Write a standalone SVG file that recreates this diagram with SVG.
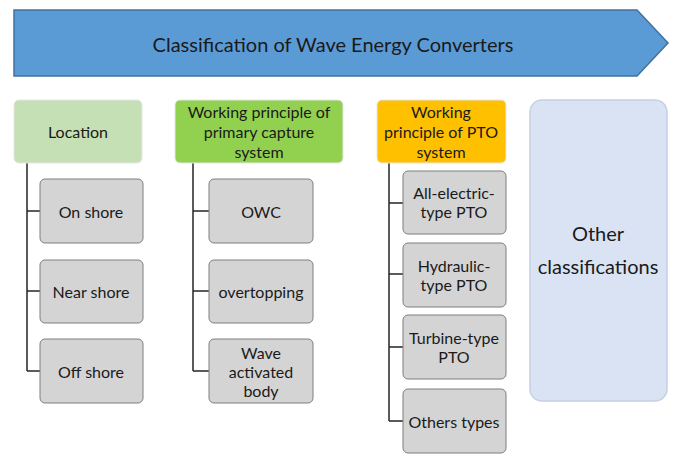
<svg xmlns="http://www.w3.org/2000/svg" width="676" height="457" viewBox="0 0 676 457">
<style>
text{font-family:Lato,"Open Sans","Liberation Sans",sans-serif;fill:#1a1a1a;text-anchor:middle;dominant-baseline:central}
.t{font-size:16px}
.big{font-size:20px}
.title{font-size:20px}
.child{fill:#d4d4d4;stroke:#7f7f7f;stroke-width:1}
.hd{stroke:#e6e6e6;stroke-width:1}
.ln{fill:none;stroke:#262626;stroke-width:1.5}
</style>
<rect width="676" height="457" fill="#ffffff"/>
<g id="banner">
<polygon points="14,10 637,10 668,43 637,76 14,76" fill="#5b9bd5" stroke="#41719c" stroke-width="1.5"/>
<text class="title" x="333" y="44">Classification of Wave Energy Converters</text>
</g>
<g id="connectors">
<path class="ln" d="M27,163 V371 M27,211 H40 M27,291 H40 M27,371 H40"/>
<path class="ln" d="M193,163 V371 M193,211 H209 M193,291 H209 M193,371 H209"/>
<path class="ln" d="M389,163 V421 M389,203 H403 M389,274 H403 M389,347 H403 M389,421 H403"/>
</g>
<g id="location">
<rect x="14" y="100" width="128" height="63" rx="5" fill="#c5e0b4" class="hd"/>
<text class="t" x="78" y="131">Location</text>
</g>
<g id="onshore">
<rect class="child" x="40" y="179" width="103" height="64" rx="5"/>
<text class="t" x="91" y="211">On shore</text>
</g>
<g id="nearshore">
<rect class="child" x="40" y="260" width="103" height="63" rx="5"/>
<text class="t" x="91" y="291">Near shore</text>
</g>
<g id="offshore">
<rect class="child" x="40" y="339" width="103" height="64" rx="5"/>
<text class="t" x="91" y="371">Off shore</text>
</g>
<g id="primary">
<rect x="175" y="100" width="168" height="63" rx="5" fill="#92d050" class="hd"/>
<text class="t" x="259" y="111">Working principle of</text>
<text class="t" x="259" y="131">primary capture</text>
<text class="t" x="259" y="151">system</text>
</g>
<g id="owc">
<rect class="child" x="209" y="179" width="104" height="64" rx="5"/>
<text class="t" x="261" y="211">OWC</text>
</g>
<g id="overtopping">
<rect class="child" x="209" y="260" width="104" height="63" rx="5"/>
<text class="t" x="261" y="291">overtopping</text>
</g>
<g id="wab">
<rect class="child" x="209" y="339" width="104" height="64" rx="5"/>
<text class="t" x="261" y="352">Wave</text>
<text class="t" x="261" y="371">activated</text>
<text class="t" x="261" y="390">body</text>
</g>
<g id="pto">
<rect x="377" y="100" width="129" height="63" rx="5" fill="#ffc000" class="hd"/>
<text class="t" x="441" y="111">Working</text>
<text class="t" x="441" y="131">principle of PTO</text>
<text class="t" x="441" y="151">system</text>
</g>
<g id="allelectric">
<rect class="child" x="403" y="171" width="103" height="63" rx="5"/>
<text class="t" x="454" y="192">All-electric-</text>
<text class="t" x="454" y="211">type PTO</text>
</g>
<g id="hydraulic">
<rect class="child" x="403" y="243" width="103" height="64" rx="5"/>
<text class="t" x="454" y="265">Hydraulic-</text>
<text class="t" x="454" y="284">type PTO</text>
</g>
<g id="turbine">
<rect class="child" x="403" y="315" width="103" height="64" rx="5"/>
<text class="t" x="454" y="337">Turbine-type</text>
<text class="t" x="454" y="356">PTO</text>
</g>
<g id="others">
<rect class="child" x="403" y="389" width="103" height="64" rx="5"/>
<text class="t" x="454" y="421">Others types</text>
</g>
<g id="other">
<rect x="530" y="100" width="137" height="301" rx="12" fill="#dae3f3" stroke="#c5d0e3" stroke-width="1.5"/>
<text class="big" x="598" y="233">Other</text>
<text class="big" x="598" y="266">classifications</text>
</g>
</svg>
